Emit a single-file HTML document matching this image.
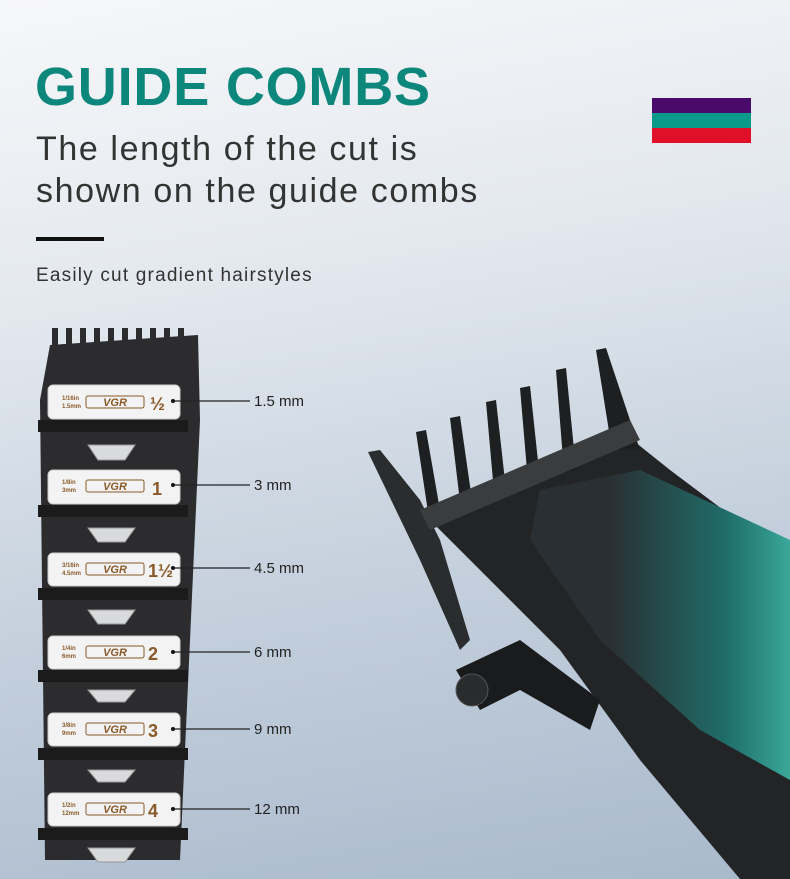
<!DOCTYPE html>
<html><head><style>
body{margin:0;width:790px;height:879px;overflow:hidden;font-family:"Liberation Sans",sans-serif;}
.bg{position:absolute;left:0;top:0;width:790px;height:879px;background:linear-gradient(170deg,#f6f7f9 0%,#e4e9ef 30%,#c3cfdc 65%,#a9b9cc 100%);}
.t{position:absolute;left:35px;top:56px;font-size:54px;font-weight:bold;color:#0d877c;letter-spacing:0.8px;}
.s{position:absolute;left:36px;top:128px;font-size:34px;line-height:42px;color:#333;letter-spacing:1.6px;}
.bar{position:absolute;left:36px;top:237px;width:68px;height:4px;background:#111;}
.e{position:absolute;left:36px;top:265px;font-size:19px;color:#333;letter-spacing:1.2px;}
.l{position:absolute;left:254px;font-size:15px;color:#222;}
</style></head><body>
<div class="bg"></div>
<div class="t">GUIDE COMBS</div>
<div class="s">The length of the cut is<br>shown on the guide combs</div>
<div class="bar"></div>
<div class="e">Easily cut gradient hairstyles</div>
<div style="position:absolute;left:652px;top:98px;width:99px;height:15px;background:#4a0a6b"></div>
<div style="position:absolute;left:652px;top:113px;width:99px;height:15px;background:#0a9a8a"></div>
<div style="position:absolute;left:652px;top:128px;width:99px;height:15px;background:#e0102a"></div>
<svg width="790" height="879" style="position:absolute;left:0;top:0">
<defs><linearGradient id="g" x1="0" y1="0" x2="1" y2="0"><stop offset="0.3" stop-color="#2a2f33"/><stop offset="0.75" stop-color="#1f6c68"/><stop offset="1" stop-color="#3aa79a"/></linearGradient></defs>
<path d="M50 345 L198 335 L200 420 L180 860 L45 860 L40 400Z" fill="#2c2c2e"/>
<g fill="#2c2c2e"><rect x="52" y="328" width="6" height="18"/><rect x="66" y="328" width="6" height="18"/><rect x="80" y="328" width="6" height="18"/><rect x="94" y="328" width="6" height="18"/><rect x="108" y="328" width="6" height="18"/><rect x="122" y="328" width="6" height="18"/><rect x="136" y="328" width="6" height="18"/><rect x="150" y="328" width="6" height="18"/><rect x="164" y="328" width="6" height="18"/><rect x="178" y="328" width="6" height="18"/></g>
<g fill="#1b1b1c"><rect x="38" y="420" width="150" height="12"/><rect x="38" y="505" width="150" height="12"/><rect x="38" y="588" width="150" height="12"/><rect x="38" y="670" width="150" height="12"/><rect x="38" y="748" width="150" height="12"/><rect x="38" y="828" width="150" height="12"/></g>
<g fill="#d8dadc" stroke="#999" stroke-width="1">
<path d="M88 445 L135 445 L125 460 L98 460Z"/><path d="M88 528 L135 528 L125 542 L98 542Z"/><path d="M88 610 L135 610 L125 624 L98 624Z"/><path d="M88 690 L135 690 L125 702 L98 702Z"/><path d="M88 770 L135 770 L125 782 L98 782Z"/><path d="M88 848 L135 848 L125 862 L98 862Z"/>
</g>
<g fill="#f3f3f3" stroke="#ccc"><rect x="48" y="385" width="132" height="34" rx="5"/><rect x="48" y="470" width="132" height="34" rx="5"/><rect x="48" y="553" width="132" height="33" rx="5"/><rect x="48" y="636" width="132" height="33" rx="5"/><rect x="48" y="713" width="132" height="33" rx="5"/><rect x="48" y="793" width="132" height="33" rx="5"/></g>
<g fill="none" stroke="#8a5a2a"><rect x="86" y="396" width="58" height="12" rx="2"/><rect x="86" y="480" width="58" height="12" rx="2"/><rect x="86" y="563" width="58" height="12" rx="2"/><rect x="86" y="646" width="58" height="12" rx="2"/><rect x="86" y="723" width="58" height="12" rx="2"/><rect x="86" y="803" width="58" height="12" rx="2"/></g>
<g font-family="Liberation Sans" font-weight="bold" fill="#8a5a2a" font-size="11" font-style="italic" text-anchor="middle"><text x="115" y="406">VGR</text><text x="115" y="490">VGR</text><text x="115" y="573">VGR</text><text x="115" y="656">VGR</text><text x="115" y="733">VGR</text><text x="115" y="813">VGR</text></g>
<g font-family="Liberation Sans" font-weight="bold" fill="#8a5a2a" font-size="18"><text x="150" y="410">½</text><text x="152" y="495">1</text><text x="148" y="577">1½</text><text x="148" y="660">2</text><text x="148" y="737">3</text><text x="148" y="817">4</text></g>
<g font-family="Liberation Sans" font-weight="bold" fill="#8a5a2a" font-size="6"><text x="62" y="400">1/16in</text><text x="62" y="408">1.5mm</text><text x="62" y="484">1/8in</text><text x="62" y="492">3mm</text><text x="62" y="567">3/16in</text><text x="62" y="575">4.5mm</text><text x="62" y="650">1/4in</text><text x="62" y="658">6mm</text><text x="62" y="727">3/8in</text><text x="62" y="735">9mm</text><text x="62" y="807">1/2in</text><text x="62" y="815">12mm</text></g>
<g stroke="#222" stroke-width="1.2"><line x1="173" y1="401" x2="250" y2="401"/><line x1="173" y1="485" x2="250" y2="485"/><line x1="173" y1="568" x2="250" y2="568"/><line x1="173" y1="652" x2="250" y2="652"/><line x1="173" y1="729" x2="250" y2="729"/><line x1="173" y1="809" x2="250" y2="809"/></g>
<g fill="#111"><circle cx="173" cy="401" r="2"/><circle cx="173" cy="485" r="2"/><circle cx="173" cy="568" r="2"/><circle cx="173" cy="652" r="2"/><circle cx="173" cy="729" r="2"/><circle cx="173" cy="809" r="2"/></g>
<path d="M368 452 L380 450 L420 500 L440 540 L470 640 L460 650 L420 560Z" fill="#2a2c2e"/>
<path d="M430 520 L620 430 L670 470 L790 560 L790 879 L740 879 L640 760 L560 650 L470 560Z" fill="#222426"/>
<path d="M540 490 L640 470 L790 540 L790 780 L700 730 L600 640 L530 540Z" fill="url(#g)"/>
<g fill="#1d1f21"><path d="M416 432 L426 430 L440 510 L428 512Z"/><path d="M450 418 L460 416 L472 500 L460 502Z"/><path d="M486 402 L496 400 L506 490 L494 492Z"/><path d="M520 388 L530 386 L540 480 L528 482Z"/><path d="M556 370 L566 368 L576 470 L564 472Z"/><path d="M596 350 L606 348 L640 450 L612 450Z"/></g>
<path d="M420 510 L630 420 L640 440 L430 530Z" fill="#3a3c3e"/>
<path d="M456 670 L520 640 L600 700 L590 730 L520 690 L480 710Z" fill="#1a1b1c"/>
<circle cx="472" cy="690" r="16" fill="#2a2b2d" stroke="#555"/>
</svg>
<div class="l" style="top:393px">1.5 mm</div>
<div class="l" style="top:477px">3 mm</div>
<div class="l" style="top:560px">4.5 mm</div>
<div class="l" style="top:644px">6 mm</div>
<div class="l" style="top:721px">9 mm</div>
<div class="l" style="top:801px">12 mm</div>
</body></html>
